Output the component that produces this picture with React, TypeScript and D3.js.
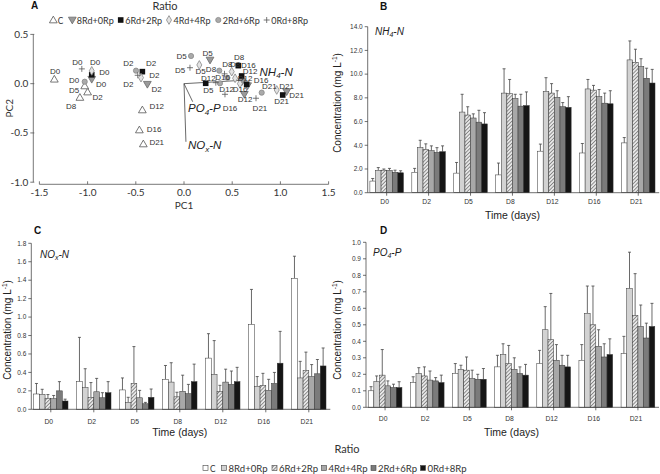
import React from 'react';
import * as d3 from 'd3';

const days = ['D0', 'D2', 'D5', 'D8', 'D12', 'D16', 'D21'];
const ratios = ['C', '8Rd+0Rp', '6Rd+2Rp', '4Rd+4Rp', '2Rd+6Rp', '0Rd+8Rp'];

// NH4-N means (rows = days, cols = ratios)
const nh4Mean = [
  [0.98, 1.88, 1.9, 1.88, 1.72, 1.68],
  [1.72, 3.8, 3.65, 3.55, 3.4, 3.46],
  [1.65, 6.8, 6.55, 6.3, 5.95, 5.8],
  [1.5, 8.4, 8.35, 7.95, 7.3, 7.35],
  [3.5, 8.55, 8.4, 8.05, 7.25, 7.2],
  [3.35, 8.75, 8.65, 8.1, 7.55, 7.5],
  [4.2, 11.2, 11.0, 10.65, 9.65, 9.25],
];
const nh4Sd = [
  [0.22, 0.24, 0.1, 0.17, 0.18, 0.17],
  [0.33, 0.62, 0.47, 0.4, 0.4, 0.49],
  [0.9, 1.5, 0.7, 0.35, 1.0, 0.95],
  [1.0, 2.05, 1.2, 0.35, 1.0, 1.15],
  [0.6, 1.15, 0.8, 0.55, 0.35, 0.9],
  [0.8, 0.8, 0.4, 0.6, 0.85, 1.1],
  [0.45, 1.6, 1.1, 0.65, 0.85, 1.15],
];
const noxMean = [
  [0.166, 0.163, 0.12, 0.115, 0.2, 0.09],
  [0.3, 0.235, 0.13, 0.19, 0.125, 0.18],
  [0.21, 0.075, 0.28, 0.125, 0.06, 0.13],
  [0.325, 0.295, 0.135, 0.195, 0.17, 0.3],
  [0.555, 0.38, 0.195, 0.295, 0.27, 0.3],
  [0.92, 0.25, 0.26, 0.205, 0.28, 0.5],
  [1.42, 0.34, 0.42, 0.355, 0.385, 0.47],
];
const noxSd = [
  [0.114, 0.054, 0.04, 0.035, 0.1, 0.02],
  [0.48, 0.205, 0.16, 0.145, 0.055, 0.12],
  [0.13, 0.055, 0.4, 0.08, 0.015, 0.09],
  [0.15, 0.21, 0.05, 0.175, 0.1, 0.19],
  [0.265, 0.365, 0.065, 0.14, 0.145, 0.155],
  [0.38, 0.105, 0.13, 0.12, 0.12, 0.345],
  [0.24, 0.18, 0.2, 0.13, 0.155, 0.195],
];
const po4Mean = [
  [0.1, 0.155, 0.195, 0.13, 0.12, 0.12],
  [0.15, 0.205, 0.19, 0.165, 0.16, 0.15],
  [0.205, 0.23, 0.225, 0.175, 0.17, 0.17],
  [0.245, 0.32, 0.265, 0.23, 0.205, 0.195],
  [0.265, 0.47, 0.41, 0.285, 0.255, 0.245],
  [0.285, 0.57, 0.5, 0.37, 0.305, 0.32],
  [0.325, 0.72, 0.555, 0.49, 0.42, 0.49],
];
const po4Sd = [
  [0.025, 0.035, 0.155, 0.03, 0.02, 0.035],
  [0.035, 0.035, 0.055, 0.055, 0.02, 0.045],
  [0.06, 0.025, 0.08, 0.05, 0.03, 0.065],
  [0.07, 0.065, 0.11, 0.07, 0.04, 0.065],
  [0.08, 0.14, 0.28, 0.095, 0.06, 0.07],
  [0.095, 0.165, 0.235, 0.1, 0.08, 0.095],
  [0.105, 0.22, 0.255, 0.13, 0.09, 0.14],
];

// PCA scores: [ratio index, day, PC1, PC2]
const pcaScores: [number, string, number, number][] = [
  [0, 'D0', -1.345, 0.045], [0, 'D2', -1.0, -0.085], [0, 'D5', -1.03, -0.023], [0, 'D8', -1.08, -0.14],
  [0, 'D12', -0.432, -0.267], [0, 'D16', -0.463, -0.47], [0, 'D21', -0.422, -0.612],
  [1, 'D0', -0.957, 0.045], [1, 'D2', -0.38, -0.006], [1, 'D5', 0.27, 0.24], [1, 'D8', 0.6, 0.02],
  [1, 'D12', 0.626, -0.108], [1, 'D16', 0.66, -0.02], [1, 'D21', 1.065, -0.081],
  [2, 'D0', -0.957, 0.09], [2, 'D2', -0.432, 0.122], [2, 'D5', 0.225, 0.004], [2, 'D8', 0.563, 0.183],
  [2, 'D12', 0.598, 0.078], [2, 'D16', 0.65, -0.006], [2, 'D21', 1.024, -0.115],
  [3, 'D0', -0.957, 0.13], [3, 'D2', -0.446, 0.061], [3, 'D5', 0.159, 0.19], [3, 'D8', 0.495, 0.122],
  [3, 'D12', 0.53, 0.055], [3, 'D16', 0.58, 0.0], [3, 'D21', 0.962, -0.064],
  [4, 'D0', -1.03, 0.02], [4, 'D2', -0.498, 0.132], [4, 'D5', 0.073, 0.281], [4, 'D8', 0.366, 0.132],
  [4, 'D12', 0.373, 0.004], [4, 'D16', 0.45, 0.06], [4, 'D21', 0.806, -0.091],
  [5, 'D0', -1.06, 0.15], [5, 'D2', -0.48, 0.085], [5, 'D5', 0.062, 0.162], [5, 'D8', 0.42, 0.1],
  [5, 'D12', 0.33, 0.01], [5, 'D16', 0.425, -0.108], [5, 'D21', 0.747, -0.148],
];
// PCA point labels: [text, PC1, PC2]
const pcaLabels: [string, number, number][] = [
  ['D0', -1.338, 0.122], ['D0', -1.107, 0.217], ['D0', -0.923, 0.217], ['D0', -0.827, 0.119],
  ['D0', -1.141, 0.035], ['D0', -0.861, -0.003], ['D5', -1.141, -0.064], ['D2', -0.895, -0.138],
  ['D8', -1.172, -0.226],
  ['D2', -0.578, 0.207], ['D2', -0.342, 0.207], ['D2', -0.308, 0.088], ['D2', -0.578, -0.006],
  ['D2', -0.283, -0.054], ['D12', -0.283, -0.226], ['D16', -0.311, -0.46], ['D21', -0.283, -0.592],
  ['D5', -0.024, 0.281], ['D5', 0.246, 0.309], ['D5', -0.041, 0.132], ['D5', 0.173, 0.129],
  ['D8', 0.28, 0.146], ['D8', 0.45, 0.2], ['D8', 0.53, 0.2], ['D8', 0.571, 0.268], ['D16', 0.667, 0.19],
  ['D12', 0.252, 0.055], ['D16', 0.401, 0.065], ['D12', 0.685, 0.122], ['D12', 0.633, 0.055],
  ['D16', 0.8, 0.038], ['D12', 0.443, -0.057], ['D5', 0.252, -0.064], ['D16', 0.581, -0.057],
  ['D12', 0.633, -0.155], ['D16', 0.477, -0.25], ['D21', 0.788, -0.25], ['D21', 0.885, -0.023],
  ['D21', 1.065, -0.023], ['D21', 1.169, -0.115], ['D21', 1.013, -0.183],
];
// PCA loadings: [variable, sub, suffix, PC1, PC2]
const pcaLoadings: [string, string, string, number, number][] = [
  ['NH', '4', '-N', 0.62, 0.035],
  ['PO', '4', '-P', 0.09, -0.183],
  ['NO', 'x', '-N', 0.02, -0.59],
];
const pcaTicksX = [-1.5, -1.0, -0.5, 0.0, 0.5, 1.0, 1.5];
const pcaTicksY = [0.5, 0.0, -0.5, -1.0];

const barFills = ['#ffffff', '#d2d2d2', 'url(#hatch)', '#a8a8a8', '#7b7b7b', '#151515'];

const SANS = 'Liberation Sans, Arial, sans-serif';
const CAL = 'Lato, Open Sans, sans-serif';

function Chem({ x, y, base, sub, suf, size, anchor = 'start' }: any) {
  return (
    <text x={x} y={y} fontFamily={SANS} fontStyle="italic" fontSize={size} textAnchor={anchor} fill="#222">
      {base}
      <tspan fontSize={size * 0.7} dy={size * 0.22}>{sub}</tspan>
      <tspan dy={-size * 0.22}>{suf}</tspan>
    </text>
  );
}

function BarPanel(props: any) {
  const { means, sds, xRange, y0, y1, yMax, yStep, fmt, letter, letterPos, chem, chemPos, ylabX, ylabY, xlabY, catY } = props;
  const x = d3.scaleBand<string>().domain(days).range(xRange).paddingInner(0.2).paddingOuter(0.1);
  const xs = d3.scaleBand<number>().domain(d3.range(ratios.length)).range([0, x.bandwidth()]);
  const y = d3.scaleLinear().domain([0, yMax]).range([y0, y1]);
  const ticks = d3.range(0, yMax + yStep / 2, yStep);
  const axisX = xRange[0] + 2;
  return (
    <g>
      <text x={letterPos[0]} y={letterPos[1]} fontFamily={SANS} fontWeight="bold" fontSize={10} fill="#111">{letter}</text>
      {days.map((d, i) =>
        means[i].map((m: number, j: number) => {
          const bx = (x(d) as number) + (xs(j) as number);
          const bw = xs.bandwidth();
          const cx = bx + bw / 2;
          const top = y(m + sds[i][j]);
          return (
            <g key={d + j}>
              <line x1={cx} x2={cx} y1={y(m)} y2={top} stroke="#444" strokeWidth={0.8} />
              <line x1={cx - 1.5} x2={cx + 1.5} y1={top} y2={top} stroke="#444" strokeWidth={0.8} />
              <rect x={bx} y={y(m)} width={bw} height={y0 - y(m)} fill={barFills[j]} stroke="#333" strokeWidth={0.5} />
            </g>
          );
        })
      )}
      <line x1={axisX} x2={axisX} y1={y0} y2={y(yMax)} stroke="#333" strokeWidth={0.7} />
      <line x1={axisX} x2={xRange[1]} y1={y0} y2={y0} stroke="#333" strokeWidth={0.7} />
      {ticks.map((t) => (
        <g key={t}>
          <line x1={axisX - 3} x2={axisX} y1={y(t)} y2={y(t)} stroke="#333" strokeWidth={0.7} />
          <text x={axisX - 5} y={y(t)} dy="0.35em" textAnchor="end" fontFamily={SANS} fontSize={6.5} fill="#333">{fmt(t)}</text>
        </g>
      ))}
      {days.map((d) => {
        const cx = (x(d) as number) + x.bandwidth() / 2;
        return (
          <g key={d}>
            <line x1={cx} x2={cx} y1={y0} y2={y0 + 3} stroke="#333" strokeWidth={0.7} />
            <text x={cx - 2} y={catY} textAnchor="middle" fontFamily={SANS} fontSize={6.8} fill="#333">{d}</text>
          </g>
        );
      })}
      <Chem x={chemPos[0]} y={chemPos[1]} base={chem[0]} sub={chem[1]} suf={chem[2]} size={10} />
      <text transform={`translate(${ylabX},${ylabY}) rotate(-90)`} textAnchor="middle" fontFamily={SANS} fontSize={10} fill="#222">
        Concentration (mg L<tspan fontSize={6.5} dy={-3.5}>-1</tspan><tspan dy={3.5}>)</tspan>
      </text>
      <text x={(xRange[0] + xRange[1]) / 2} y={xlabY} textAnchor="middle" fontFamily={SANS} fontSize={10.5} fill="#222">Time (days)</text>
    </g>
  );
}

function Marker({ s, cx, cy }: any) {
  if (s === 0) {
    const p = d3.symbol(d3.symbolTriangle, 26)();
    return <path d={p as string} transform={`translate(${cx},${cy + 0.6})`} fill="#fff" stroke="#555" strokeWidth={0.8} />;
  }
  if (s === 1) {
    const p = d3.symbol(d3.symbolTriangle, 26)();
    return <path d={p as string} transform={`translate(${cx},${cy - 0.6}) rotate(180)`} fill="#9a9a9a" stroke="#6a6a6a" strokeWidth={0.8} />;
  }
  if (s === 2) {
    return <rect x={cx - 2.8} y={cy - 2.8} width={5.6} height={5.6} fill="#111" />;
  }
  if (s === 3) {
    const p = d3.symbol(d3.symbolDiamond, 22)();
    return <path d={p as string} transform={`translate(${cx},${cy})`} fill="#e4e4e4" stroke="#888" strokeWidth={0.8} />;
  }
  if (s === 4) {
    return <circle cx={cx} cy={cy} r={2.6} fill="#aaa" stroke="#888" strokeWidth={0.8} />;
  }
  return (
    <g stroke="#555" strokeWidth={0.8}>
      <line x1={cx - 3} x2={cx + 3} y1={cy} y2={cy} />
      <line x1={cx} x2={cx} y1={cy - 3} y2={cy + 3} />
    </g>
  );
}

function PcaPanel() {
  const x = d3.scaleLinear().domain([-1.5, 1.5]).range([39.4, 328.6]);
  const y = d3.scaleLinear().domain([-1, 0.5]).range([182.2, 34.4]);
  const axY = 184.3;
  const axX = 33.3;
  const legendX = [53.3, 72.3, 120.7, 169, 218.3, 266.7];
  return (
    <g>
      <text x={31} y={9} fontFamily={SANS} fontWeight="bold" fontSize={10} fill="#111">A</text>
      <text x={165} y={10} textAnchor="middle" fontFamily={CAL} fontSize={11} fill="#333">Ratio</text>
      {ratios.map((r, i) => (
        <g key={r}>
          <Marker s={i} cx={legendX[i]} cy={20} />
          <text x={legendX[i] + 4.5} y={20} dy="0.35em" fontFamily={CAL} fontSize={10} fill="#333"
            textLength={i === 0 ? 5.5 : 37} lengthAdjust="spacingAndGlyphs">{r}</text>
        </g>
      ))}
      <line x1={axX} x2={axX} y1={y(0.5)} y2={y(-1)} stroke="#555" strokeWidth={0.8} />
      {pcaTicksY.map((t) => (
        <g key={t}>
          <line x1={axX - 3} x2={axX + 1} y1={y(t)} y2={y(t)} stroke="#555" strokeWidth={0.8} />
          <text x={axX - 5} y={y(t)} dy="0.35em" textAnchor="end" fontFamily={CAL} fontSize={10} fill="#333">{t.toFixed(1)}</text>
        </g>
      ))}
      <line x1={x(-1.5)} x2={x(1.5)} y1={axY} y2={axY} stroke="#555" strokeWidth={0.8} />
      {pcaTicksX.map((t) => (
        <g key={t}>
          <line x1={x(t)} x2={x(t)} y1={axY - 3} y2={axY} stroke="#555" strokeWidth={0.8} />
          <text x={x(t)} y={axY + 12} textAnchor="middle" fontFamily={CAL} fontSize={10} fill="#333">{t.toFixed(1)}</text>
        </g>
      ))}
      <text x={x(0)} y={209} textAnchor="middle" fontFamily={CAL} fontSize={10} fill="#333">PC1</text>
      <text transform={`translate(13,${y(-0.25)}) rotate(-90)`} textAnchor="middle" fontFamily={CAL} fontSize={10} fill="#333">PC2</text>
      {pcaLoadings.map((l) => (
        <line key={l[0] + l[2]} x1={x(0)} y1={y(0)} x2={x(l[3])} y2={y(l[4])} stroke="#444" strokeWidth={0.8} />
      ))}
      {pcaScores.map((p, i) => (
        <Marker key={i} s={p[0]} cx={x(p[2])} cy={y(p[3])} />
      ))}
      {pcaLabels.map((l, i) => (
        <text key={i} x={x(l[1])} y={y(l[2])} dy="0.35em" textAnchor="middle" fontFamily={SANS} fontSize={8} fill="#333">{l[0]}</text>
      ))}
      <Chem x={259.5} y={75.5} base="NH" sub="4" suf="-N" size={11.5} />
      <Chem x={188} y={112} base="PO" sub="4" suf="-P" size={11.5} />
      <Chem x={188} y={149} base="NO" sub="x" suf="-N" size={11.5} />
    </g>
  );
}

export default function App() {
  const legendBoxX = [203, 221.5, 272, 321.5, 371, 420.5];
  return (
    <svg width={660} height={474} style={{ position: 'absolute', left: 0, top: 0, background: '#fff' }}>
      <defs>
        <pattern id="hatch" patternUnits="userSpaceOnUse" width={2.6} height={2.6} patternTransform="rotate(45)">
          <rect width={2.6} height={2.6} fill="#e8e8e8" />
          <line x1={0} y1={0} x2={0} y2={2.6} stroke="#6a6a6a" strokeWidth={1.4} />
        </pattern>
      </defs>
      <rect width={660} height={474} fill="#fff" />
      <PcaPanel />
      <BarPanel
        means={nh4Mean} sds={nh4Sd} xRange={[365.7, 659.2]} y0={192.7} y1={26.7} yMax={14} yStep={2}
        fmt={(v: number) => v.toFixed(1)} letter="B" letterPos={[380, 10]} chem={['NH', '4', '-N']} chemPos={[375, 35]}
        ylabX={340.5} ylabY={103} xlabY={219} catY={203.5}
      />
      <BarPanel
        means={noxMean} sds={noxSd} xRange={[29.3, 330.3]} y0={409.3} y1={243.3} yMax={1.8} yStep={0.2}
        fmt={(v: number) => v.toFixed(1)} letter="C" letterPos={[34, 234]} chem={['NO', 'x', '-N']} chemPos={[40, 257.5]}
        ylabX={10.5} ylabY={330} xlabY={435.5} catY={423.5}
      />
      <BarPanel
        means={po4Mean} sds={po4Sd} xRange={[364, 659]} y0={407.3} y1={242.3} yMax={1.0} yStep={0.1}
        fmt={(v: number) => v.toFixed(1)} letter="D" letterPos={[380, 234]} chem={['PO', '4', '-P']} chemPos={[373, 256]}
        ylabX={340.5} ylabY={330} xlabY={435.5} catY={420.5}
      />
      <text x={347} y={453} textAnchor="middle" fontFamily={CAL} fontSize={11} fill="#333">Ratio</text>
      {ratios.map((r, i) => (
        <g key={r}>
          <rect x={legendBoxX[i]} y={465.5} width={5} height={5} fill={barFills[i]} stroke="#444" strokeWidth={0.6} />
          <text x={legendBoxX[i] + 7} y={468} dy="0.35em" fontFamily={CAL} fontSize={10} fill="#333"
            textLength={i === 0 ? 5.5 : 39} lengthAdjust="spacingAndGlyphs">{r}</text>
        </g>
      ))}
    </svg>
  );
}
